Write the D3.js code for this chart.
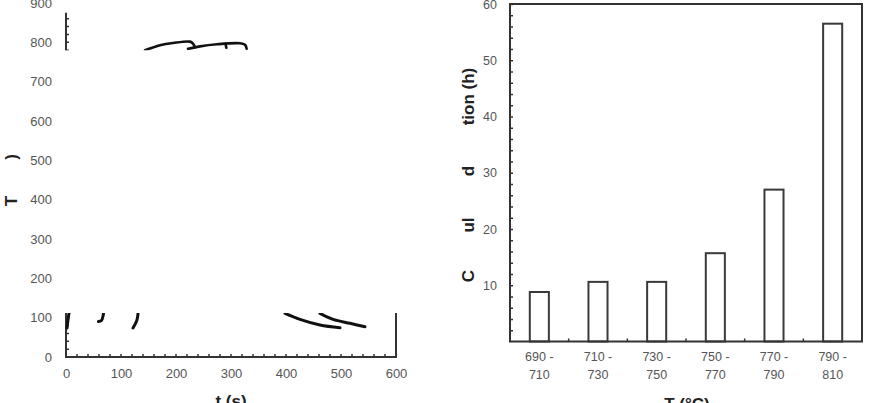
<!DOCTYPE html>
<html>
<head>
<meta charset="utf-8">
<script src="https://cdn.jsdelivr.net/npm/d3@7"></script>
<style>
  body { margin: 0; background: #fff; }
  text { font-family: 'Liberation Sans', Arial, sans-serif; }
</style>
</head>
<body>
<svg id="chart"></svg>
<script>
// left panel: visible fragments of the thermal cycles, [t (s), T (°C)]
const heatStarts = [
  [[1.8, 73.7], [3.6, 94], [5.5, 111.7]],
  [[59, 90.2], [64.5, 92.7], [67.3, 104], [68.2, 111.7]],
  [[121.8, 73.7], [129, 94], [131, 111.7]]
]
const peaks = [
  [[143.6, 779.7], [170.9, 792.4], [194.5, 798.2], [225.5, 801.8], [230.9, 796.7], [234.5, 787.3]],
  [[221.8, 783.5], [243.6, 789.8], [274.5, 795], [316.4, 797.5], [325.5, 793.7], [328.5, 783.5]],
  [[290, 796], [291.5, 786]]
]
const coolings = [
  [[398.2, 111], [425.5, 95.7], [461.8, 81.3], [498.2, 74.4]],
  [[461.8, 111], [485.5, 95.7], [516.4, 85.6], [543.6, 77]]
]
const tTicks = [0, 100, 200, 300, 400, 500, 600]
const TTicks = [0, 100, 200, 300, 400, 500, 600, 700, 800, 900]

// right panel
const ranges = [['690 -', '710'], ['710 -', '730'], ['730 -', '750'], ['750 -', '770'], ['770 -', '790'], ['790 -', '810']]
const durations = [8.8, 10.6, 10.6, 15.7, 27.0, 56.5]
const durTicks = [10, 20, 30, 40, 50, 60]

const width = 870
const height = 403
const axisColor = '#333'
const labelColor = '#555'

const svg = d3.select('#chart')
  .attr('width', width)
  .attr('height', height)
  .attr('viewBox', [0, 0, width, height])

svg.append('rect').attr('width', width).attr('height', height).attr('fill', '#fff')

/// left panel ////////////////////////////////
const xScale = d3.scaleLinear().domain([0, 600]).range([66, 396])
const yScale = d3.scaleLinear().domain([0, 900]).range([357, 3])

// only two bands of the plot survive in the picture
const clip = svg.append('defs').append('clipPath').attr('id', 'leftClip')
clip.append('rect')
  .attr('x', 60).attr('y', yScale(875))
  .attr('width', 240).attr('height', yScale(780) - yScale(875))
clip.append('rect')
  .attr('x', 60).attr('y', yScale(112))
  .attr('width', 345).attr('height', 365 - yScale(112))

const plot = svg.append('g').attr('clip-path', 'url(#leftClip)')

// axis lines
plot.append('path')
  .attr('d', `M${xScale(0)},${yScale(900)}V${yScale(0)}H${xScale(600)}V${yScale(900)}`)
  .attr('fill', 'none')
  .attr('stroke', axisColor)
  .attr('stroke-width', 2)

// minor ticks
plot.append('g')
  .selectAll('line')
  .data(d3.range(20, 900, 20))
  .join('line')
  .attr('x1', xScale(0)).attr('x2', xScale(0) + 3)
  .attr('y1', d => yScale(d)).attr('y2', d => yScale(d))
  .attr('stroke', axisColor).attr('stroke-width', 1.5)

plot.append('g')
  .selectAll('line')
  .data(d3.range(20, 600, 20))
  .join('line')
  .attr('x1', d => xScale(d)).attr('x2', d => xScale(d))
  .attr('y1', yScale(0)).attr('y2', yScale(0) - 3)
  .attr('stroke', axisColor).attr('stroke-width', 1.5)

const line = d3.line()
  .x(d => xScale(d[0]))
  .y(d => yScale(d[1]))
  .curve(d3.curveMonotoneX)

const lineY = d3.line()
  .x(d => xScale(d[0]))
  .y(d => yScale(d[1]))
  .curve(d3.curveCatmullRom)

plot.append('g')
  .selectAll('path')
  .data(heatStarts.concat(coolings))
  .join('path')
  .attr('d', d => lineY(d))
  .attr('fill', 'none')
  .attr('stroke', '#111')
  .attr('stroke-width', 3)
  .attr('stroke-linecap', 'round')

plot.append('g')
  .selectAll('path')
  .data(peaks)
  .join('path')
  .attr('d', d => lineY(d))
  .attr('fill', 'none')
  .attr('stroke', '#111')
  .attr('stroke-width', 2.6)
  .attr('stroke-linecap', 'round')

// tick labels
svg.append('g')
  .attr('transform', `translate(${xScale(0)},0)`)
  .call(d3.axisLeft(yScale).tickValues(TTicks).tickSize(0).tickPadding(14))
  .call(g => g.select('.domain').remove())
  .call(g => g.selectAll('text')
    .attr('fill', labelColor)
    .attr('font-size', 13)
    .attr('font-family', 'Liberation Sans, Arial, sans-serif'))

svg.append('g')
  .attr('transform', `translate(0,${yScale(0)})`)
  .call(d3.axisBottom(xScale).tickValues(tTicks).tickSize(0).tickPadding(12))
  .call(g => g.select('.domain').remove())
  .call(g => g.selectAll('text')
    .attr('fill', labelColor)
    .attr('font-size', 13)
    .attr('font-family', 'Liberation Sans, Arial, sans-serif'))

// axis titles (what is left of them)
svg.append('text')
  .text('t (s)')
  .attr('x', (xScale(0) + xScale(600)) / 2)
  .attr('y', 407)
  .attr('text-anchor', 'middle')
  .attr('font-size', 17)
  .attr('font-weight', 'bold')
  .attr('fill', '#222')

const leftTitle = [['T', 201], [')', 157]]
svg.append('g')
  .selectAll('text')
  .data(leftTitle)
  .join('text')
  .text(d => d[0])
  .attr('transform', d => `translate(17,${d[1]}) rotate(-90)`)
  .attr('text-anchor', 'middle')
  .attr('font-size', 17)
  .attr('font-weight', 'bold')
  .attr('fill', '#222')

/// right panel ////////////////////////////////
const cats = ranges.map(d => d.join(' '))
const xBand = d3.scaleBand().domain(cats).range([510, 862]).paddingInner(0.675).paddingOuter(0.3375)
const yBar = d3.scaleLinear().domain([0, 60]).range([341.5, 4])

svg.append('g')
  .selectAll('rect')
  .data(durations)
  .join('rect')
  .attr('x', (d, i) => xBand(cats[i]))
  .attr('y', d => yBar(d))
  .attr('width', xBand.bandwidth())
  .attr('height', d => yBar(0) - yBar(d))
  .attr('fill', '#fff')
  .attr('stroke', '#3a3a3a')
  .attr('stroke-width', 2)

// frame
svg.append('rect')
  .attr('x', xBand.range()[0])
  .attr('y', yBar(60))
  .attr('width', xBand.range()[1] - xBand.range()[0])
  .attr('height', yBar(0) - yBar(60))
  .attr('fill', 'none')
  .attr('stroke', axisColor)
  .attr('stroke-width', 2)

// y axis, minor ticks every 2 h pointing inward
svg.append('g')
  .attr('transform', `translate(${xBand.range()[0]},0)`)
  .call(d3.axisLeft(yBar)
    .tickValues(d3.range(2, 60, 2).concat([60]))
    .tickSizeInner(-3)
    .tickSizeOuter(0)
    .tickPadding(13)
    .tickFormat(d => durTicks.includes(d) ? d : ''))
  .call(g => g.select('.domain').remove())
  .call(g => g.selectAll('line').attr('stroke', axisColor).attr('stroke-width', 1.5))
  .call(g => g.selectAll('text')
    .attr('fill', labelColor)
    .attr('font-size', 12.5)
    .attr('font-family', 'Liberation Sans, Arial, sans-serif'))

// small ticks between categories
svg.append('g')
  .selectAll('line')
  .data(cats.slice(1))
  .join('line')
  .attr('x1', d => xBand(d) - xBand.step() * xBand.paddingInner() / 2)
  .attr('x2', d => xBand(d) - xBand.step() * xBand.paddingInner() / 2)
  .attr('y1', yBar(0))
  .attr('y2', yBar(0) - 3)
  .attr('stroke', axisColor)
  .attr('stroke-width', 1.5)

// category labels on two lines
const catLabels = svg.append('g')
  .selectAll('text')
  .data(ranges)
  .join('text')
  .attr('text-anchor', 'middle')
  .attr('font-size', 12.5)
  .attr('fill', labelColor)
catLabels.selectAll('tspan')
  .data((d, i) => d.map(s => ({ s, x: xBand(cats[i]) + xBand.bandwidth() / 2 })))
  .join('tspan')
  .attr('x', d => d.x)
  .attr('y', (d, j) => 361 + j * 17.5)
  .text(d => d.s)

svg.append('text')
  .text('T (°C)')
  .attr('x', (xBand.range()[0] + xBand.range()[1]) / 2 + 1)
  .attr('y', 410)
  .attr('text-anchor', 'middle')
  .attr('font-size', 17)
  .attr('font-weight', 'bold')
  .attr('fill', '#222')

const rightTitle = [['tion (h)', 96.5], ['d', 171], ['ul', 225], ['C', 276]]
svg.append('g')
  .selectAll('text')
  .data(rightTitle)
  .join('text')
  .text(d => d[0])
  .attr('transform', d => `translate(474,${d[1]}) rotate(-90)`)
  .attr('text-anchor', 'middle')
  .attr('font-size', 17)
  .attr('font-weight', 'bold')
  .attr('fill', '#222')
</script>
</body>
</html>
